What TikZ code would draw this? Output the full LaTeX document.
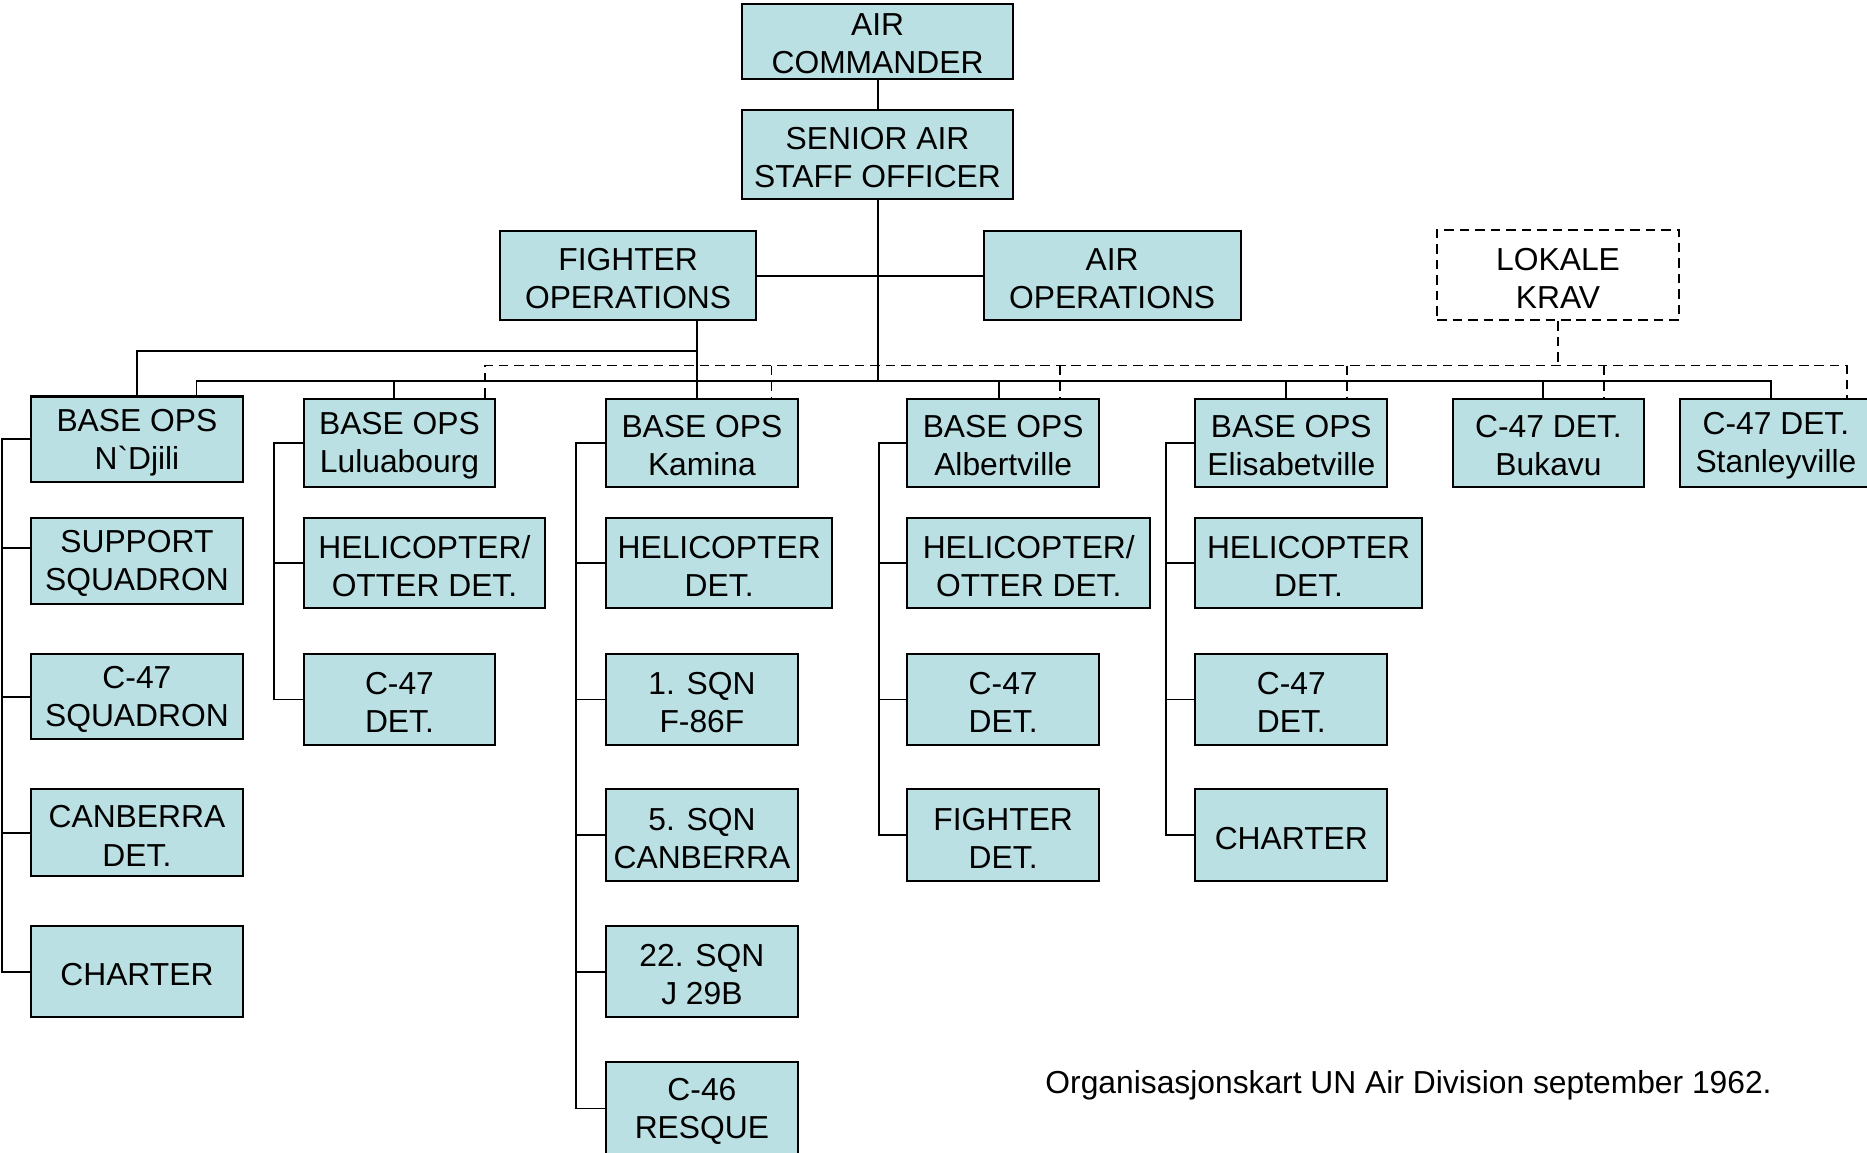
\documentclass[tikz,border=0pt]{standalone}
\usepackage{fontspec}
\setmainfont{Liberation Sans}[Ligatures=TeXOff]
\definecolor{boxblue}{RGB}{187,224,227}
\tikzset{
  orgbox/.style={draw=black, line width=1.7pt, fill=boxblue, inner sep=0pt},
  boxtext/.style={inner sep=0pt, align=center, font=\fontsize{26.7}{32}\selectfont},
  dbox/.style={draw=black, line width=1.5pt, dash pattern=on 8pt off 5pt, inner sep=0pt},
  conn/.style={draw=black, line width=1.6pt},
  dconn/.style={draw=black, line width=1.5pt, dash pattern=on 8pt off 5pt}
}
\newcommand{\bx}[6]{\node[orgbox, minimum width=#4pt, minimum height=#5pt] (#1) at (#2,#3) {};
  \node[boxtext] (#1-t) at ([yshift=-2.5pt]#1.center) {#6};}
\begin{document}
\begin{tikzpicture}[x=1pt,y=-1pt]
\useasboundingbox (0,0) rectangle (1568,968);
% top
\bx{ac}{737}{34.5}{228}{63}{AIR\\COMMANDER}
\bx{saso}{737}{129.5}{228}{75}{SENIOR AIR\\STAFF OFFICER}
\bx{fo}{527.5}{231.5}{215}{75}{FIGHTER\\OPERATIONS}
\bx{ao}{934}{231.5}{216}{75}{AIR\\OPERATIONS}
\node[dbox, minimum width=203pt, minimum height=76pt] (lk) at (1308.5,231) {};
\node[boxtext] (lk-t) at ([yshift=-2.5pt]lk.center) {LOKALE\\KRAV};
% row
\bx{nd}{115}{369}{178}{72}{BASE OPS\\N`Djili}
\bx{lu}{335.5}{372}{161}{74}{BASE OPS\\Luluabourg}
\bx{ka}{589.5}{372}{161}{74}{BASE OPS\\Kamina}
\bx{al}{842.5}{372}{161}{74}{BASE OPS\\Albertville}
\bx{el}{1084.5}{372}{161}{74}{BASE OPS\\Elisabetville}
\bx{bu}{1300.5}{372}{161}{74}{C-47 DET.\\Bukavu}
\bx{st}{1491.5}{372}{161}{74}{C-47 DET.\\Stanleyville}
% N'Djili column
\bx{nda}{115}{471}{178}{72}{SUPPORT\\SQUADRON}
\bx{ndb}{115}{585}{178}{72}{C-47\\SQUADRON}
\bx{ndc}{115}{699.5}{178}{73}{CANBERRA\\DET.}
\bx{ndd}{115}{816}{178}{76}{CHARTER}
% Luluabourg column
\bx{lua}{356.5}{473}{203}{76}{HELICOPTER/\\OTTER DET.}
\bx{lub}{335.5}{587.5}{161}{77}{C-47\\DET.}
% Kamina column
\bx{kaa}{604}{473}{190}{76}{HELICOPTER\\DET.}
\bx{kab}{589.5}{587.5}{161}{77}{1. SQN\\F-86F}
\bx{kac}{589.5}{701.5}{161}{77}{5. SQN\\CANBERRA}
\bx{kad}{589.5}{816}{161}{76}{22. SQN\\J 29B}
\bx{kae}{589.5}{931}{161}{78}{C-46\\RESQUE}
% Albertville column
\bx{ala}{864}{473}{204}{76}{HELICOPTER/\\OTTER DET.}
\bx{alb}{842.5}{587.5}{161}{77}{C-47\\DET.}
\bx{alc}{842.5}{701.5}{161}{77}{FIGHTER\\DET.}
% Elisabetville column
\bx{ela}{1099}{473}{190}{76}{HELICOPTER\\DET.}
\bx{elb}{1084.5}{587.5}{161}{77}{C-47\\DET.}
\bx{elc}{1084.5}{701.5}{161}{77}{CHARTER}
% caption
\node[anchor=base, inner sep=0pt, font=\fontsize{26.7}{32}\selectfont] (cap) at (1183,918) {Organisasjonskart UN Air Division september 1962.};
% coordinates
\coordinate (bus) at (737,320);
\coordinate (dy) at (0,307);
\coordinate (fv) at (585,295);
\coordinate (ndx) at (2,0);
\coordinate (lux) at (230,0);
\coordinate (kax) at (484,0);
\coordinate (alx) at (738,0);
\coordinate (elx) at (979,0);
% top connectors
\draw[conn] (ac.south) -- (saso.north);
\draw[conn] (saso.south) -- (bus);
\draw[conn] (fo.east) -- (ao.west);
\draw[conn] (fo.south -| fv) -- (ka.north -| fv);
\draw[conn] (fv) -| (nd.north);
% main bus
\draw[conn] ([xshift=50pt]nd.north) -- ([xshift=50pt]nd.north |- bus) -- ([xshift=-4.5pt]st.north |- bus) -- ([xshift=-4.5pt]st.north);
\draw[conn] ([xshift=-4.5pt]lu.north |- bus) -- ([xshift=-4.5pt]lu.north);
\draw[conn] ([xshift=-3.5pt]al.north |- bus) -- ([xshift=-3.5pt]al.north);
\draw[conn] ([xshift=-4.5pt]el.north |- bus) -- ([xshift=-4.5pt]el.north);
\draw[conn] ([xshift=-4.5pt]bu.north |- bus) -- ([xshift=-4.5pt]bu.north);
% dashed
\draw[dconn] (lk.south) -- (lk.south |- dy);
\draw[dconn] ([xshift=71.5pt]lu.north) -- ([xshift=71.5pt]lu.north |- dy) -- ([xshift=59.5pt]st.north |- dy) -- ([xshift=59.5pt]st.north);
\draw[dconn] ([xshift=58.5pt]ka.north |- dy) -- ([xshift=58.5pt]ka.north);
\draw[dconn] ([xshift=47.5pt]al.north |- dy) -- ([xshift=47.5pt]al.north);
\draw[dconn] ([xshift=46.5pt]el.north |- dy) -- ([xshift=46.5pt]el.north);
\draw[dconn] ([xshift=46.5pt]bu.north |- dy) -- ([xshift=46.5pt]bu.north);
% column buses
\draw[conn] (nd.west) -- (nd.west -| ndx) -- (ndd.west -| ndx) -- (ndd.west);
\draw[conn] ([yshift=11pt]nda.west -| ndx) -- ([yshift=11pt]nda.west);
\draw[conn] (ndb.west -| ndx) -- (ndb.west);
\draw[conn] (ndc.west -| ndx) -- (ndc.west);
\draw[conn] (lu.west) -- (lu.west -| lux) -- (lub.west -| lux) -- (lub.west);
\draw[conn] (lua.west -| lux) -- (lua.west);
\draw[conn] (ka.west) -- (ka.west -| kax) -- (kae.west -| kax) -- (kae.west);
\draw[conn] (kaa.west -| kax) -- (kaa.west);
\draw[conn] (kab.west -| kax) -- (kab.west);
\draw[conn] (kac.west -| kax) -- (kac.west);
\draw[conn] (kad.west -| kax) -- (kad.west);
\draw[conn] (al.west) -- (al.west -| alx) -- (alc.west -| alx) -- (alc.west);
\draw[conn] (ala.west -| alx) -- (ala.west);
\draw[conn] (alb.west -| alx) -- (alb.west);
\draw[conn] (el.west) -- (el.west -| elx) -- (elc.west -| elx) -- (elc.west);
\draw[conn] (ela.west -| elx) -- (ela.west);
\draw[conn] (elb.west -| elx) -- (elb.west);
\end{tikzpicture}
\end{document}
